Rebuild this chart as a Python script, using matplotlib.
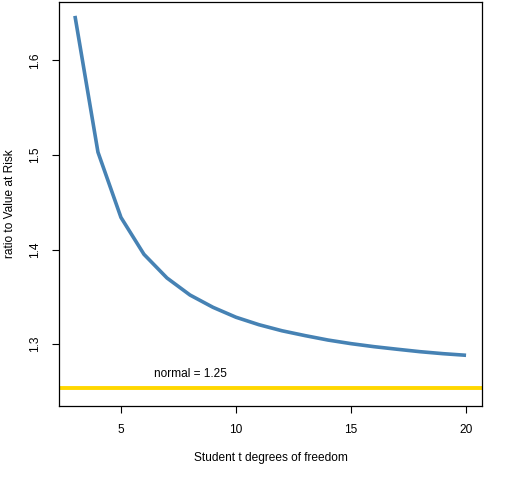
import matplotlib
matplotlib.use("Agg")
import matplotlib.pyplot as plt

df = [3, 4, 5, 6, 7, 8, 9, 10, 11, 12, 13, 14, 15, 16, 17, 18, 19, 20]
ratio = [1.647, 1.503, 1.434, 1.395, 1.370, 1.352, 1.339, 1.3285, 1.3206, 1.3142,
         1.3091, 1.3044, 1.3006, 1.2974, 1.2947, 1.2921, 1.2900, 1.2883]
normal_ratio = 1.254
normal_label = "normal = 1.25"
xticks = [5, 10, 15, 20]
yticks = [1.3, 1.4, 1.5, 1.6]

plt.rcParams['font.family'] = ['Liberation Sans', 'DejaVu Sans']
fs = 8.6

fig = plt.figure(figsize=(5.12, 4.8), dpi=100)
ax = fig.add_axes([59.3/512, 1-406/480, (481.7-59.3)/512, (406-1.5)/480])

ax.axhline(normal_ratio, color='#FFD700', lw=2.8, zorder=2)
ax.plot(df, ratio, color='steelblue', lw=2.6, zorder=3, solid_capstyle='butt')
ax.text(8, 1.269, normal_label, ha='center', va='center', fontsize=fs)

ax.set_xlim(2.32, 20.68)
ax.set_ylim(1.2347, 1.6622)
ax.set_xticks(xticks)
ax.set_xticklabels([str(v) for v in xticks])
ax.set_yticks(yticks)
ax.set_yticklabels([str(v) for v in yticks], rotation=90, va='center')
ax.tick_params(direction='out', length=5, width=0.8, labelsize=fs, pad=8, colors='black')
for s in ax.spines.values():
    s.set_linewidth(0.9)
    s.set_color('black')

fig.text(0.5*(59.3+481.7)/512, 1-457.7/480, "Student t degrees of freedom", ha='center', va='center', fontsize=fs)
fig.text(10/512, 1-(1.5+406)/2/480, "ratio to Value at Risk", ha='center', va='center', rotation=90, fontsize=fs)

fig.savefig("out.png", dpi=100)
